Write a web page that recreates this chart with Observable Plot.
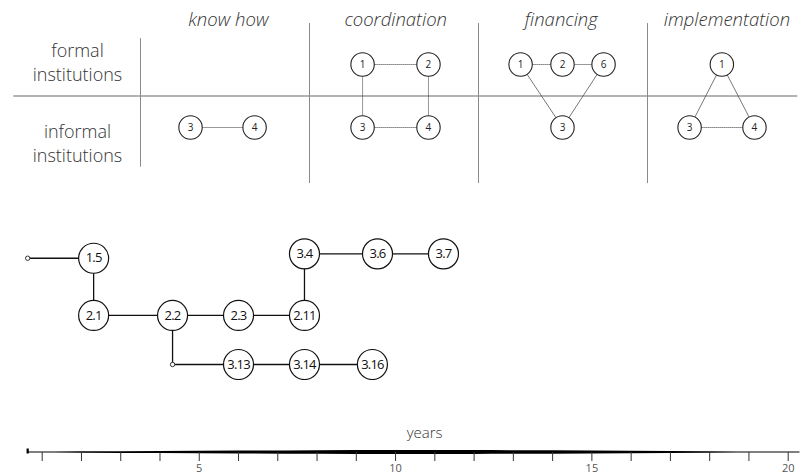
<!DOCTYPE html>
<html><head><meta charset="utf-8">
<script src="https://cdn.jsdelivr.net/npm/d3@7"></script>
<script src="https://cdn.jsdelivr.net/npm/@observablehq/plot@0.6"></script>
<style>
body{margin:0;background:#fff;}
#wrap{position:relative;width:804px;height:475px;overflow:hidden;}
#wrap > svg, #wrap > figure{position:absolute;left:0;margin:0;}
.tree-chart text{letter-spacing:-0.8px;}
</style></head><body><div id="wrap"></div>
<script>
// ---------------- DATA: institutions grid ----------------
const panels = ["know how", "coordination", "financing", "implementation"];
const panelHeaderX = [0.52, 1.51, 2.49, 3.47];          // column units
const rowLabels = ["formal\ninstitutions", "informal\ninstitutions"];
const rowLabelY = [-0.05, 1.23];                        // row units
const separators = [{x: 0, y1: -0.41, y2: 1.63}, {x: 1, y1: -0.65, y2: 1.89}, {x: 2, y1: -0.65, y2: 1.89}, {x: 3, y1: -0.65, y2: 1.89}];
const topNodes = [
  {panel: "know how", id: "3", x: 0.296, row: 1},
  {panel: "know how", id: "4", x: 0.675, row: 1},
  {panel: "coordination", id: "1", x: 1.314, row: 0},
  {panel: "coordination", id: "2", x: 1.704, row: 0},
  {panel: "coordination", id: "3", x: 1.314, row: 1},
  {panel: "coordination", id: "4", x: 1.704, row: 1},
  {panel: "financing", id: "1", x: 2.249, row: 0},
  {panel: "financing", id: "2", x: 2.497, row: 0},
  {panel: "financing", id: "6", x: 2.740, row: 0},
  {panel: "financing", id: "3", x: 2.497, row: 1},
  {panel: "implementation", id: "1", x: 3.44, row: 0},
  {panel: "implementation", id: "3", x: 3.249, row: 1},
  {panel: "implementation", id: "4", x: 3.633, row: 1}
];
const topEdges = [
  ["know how", "3", "4", "dotted"],
  ["coordination", "1", "2", "dotted"],
  ["coordination", "3", "4", "dotted"],
  ["coordination", "1", "3", "dotted"],
  ["coordination", "2", "4", "dotted"],
  ["financing", "1", "2", "dotted"],
  ["financing", "2", "6", "dotted"],
  ["financing", "1", "3", "solid"],
  ["financing", "6", "3", "solid"],
  ["implementation", "1", "3", "solid"],
  ["implementation", "1", "4", "solid"],
  ["implementation", "3", "4", "dotted"]
];

// ---------------- DATA: section tree ----------------
const treeIds = ["start", "1.5", "2.1", "2.2", "2.3", "2.11", "3.4", "3.6", "3.7", "branch", "3.13", "3.14", "3.16"];
const treeX   = [0.63, 2.31, 2.31, 4.32, 6.0, 7.68, 7.68, 9.54, 11.22, 4.32, 6.0, 7.68, 9.41];
const treeRow = [0.05, 0.05, 1.1, 1.1, 1.1, 1.1, -0.03, -0.03, -0.03, 2, 2, 2, 2];
const treeJunctions = ["start", "branch"];
const treeEdges = [
  ["start", "1.5"], ["1.5", "2.1"], ["2.1", "2.2"], ["2.2", "2.3"], ["2.3", "2.11"],
  ["2.11", "3.4"], ["3.4", "3.6"], ["3.6", "3.7"],
  ["2.2", "branch"], ["branch", "3.13"], ["3.13", "3.14"], ["3.14", "3.16"]
];

// ---------------- DATA: timeline ----------------
const years = d3.range(1, 21);
const yearLabels = [5, 10, 15, 20];
const timelineStart = 0.63;
const bandX = [0.63, 2, 4, 6, 8, 10, 12, 14, 16, 18, 20.3];
const bandWidth = [0.9, 1.4, 2.2, 3.0, 3.7, 4.1, 3.9, 3.4, 2.6, 1.6, 0.8];

(function () {
const font = "'Open Sans', 'Noto Sans', sans-serif";
const wrap = document.getElementById("wrap");
function place(el, y) { el.style.position = "absolute"; el.style.top = y + "px"; el.style.left = "0px"; wrap.appendChild(el); }

// Top grid
const nodeKey = d => d.panel + "|" + d.id;
const nodeMap = new Map(topNodes.map(d => [nodeKey(d), d]));
const edgeData = topEdges.map(([p, a, b, t]) => {
  const s = nodeMap.get(p + "|" + a), e = nodeMap.get(p + "|" + b);
  return {x1: s.x, y1: s.row, x2: e.x, y2: e.row, type: t};
});

const gridChart = Plot.plot({
  width: 804, height: 190, margin: 0,
  style: {fontFamily: font, background: "transparent"},
  x: {type: "linear", domain: [0, 4], range: [140, 816], axis: null},
  y: {type: "linear", domain: [0, 1], range: [64, 127], axis: null},
  marks: [
    Plot.ruleY([0.5], {x1: -0.75, x2: 3.89, stroke: "#9a9a9a", strokeWidth: 1.4}),
    Plot.ruleX(separators, {x: "x", y1: "y1", y2: "y2", stroke: "#8a8a8a", strokeWidth: 1}),
    Plot.link(edgeData.filter(d => d.type === "dotted"), {x1: "x1", y1: "y1", x2: "x2", y2: "y2", stroke: "#333", strokeWidth: 1, strokeDasharray: "1,1"}),
    Plot.link(edgeData.filter(d => d.type === "solid"), {x1: "x1", y1: "y1", x2: "x2", y2: "y2", stroke: "#555", strokeWidth: 0.8}),
    Plot.dot(topNodes, {x: "x", y: "row", r: 11.7, fill: "white", stroke: "#222", strokeWidth: 1.1}),
    Plot.text(topNodes, {x: "x", y: "row", text: "id", fontSize: 10, fill: "#222"}),
    Plot.text(panels, {x: (d, i) => panelHeaderX[i], y: () => -0.70, text: d => d, fontSize: 18.5, fontStyle: "italic", fontWeight: 300, fill: "#333"}),
    Plot.text(rowLabels, {x: () => -0.373, y: (d, i) => rowLabelY[i], text: d => d, fontSize: 18, lineHeight: 1.33, fontWeight: 300, fill: "#333"})
  ]
});
place(gridChart, 0);

// Tree
const treeNodes = treeIds.map((id, i) => ({id, x: treeX[i], y: treeRow[i]}));
const tmap = new Map(treeNodes.map(d => [d.id, d]));
const treeLinks = treeEdges.map(([a, b]) => ({x1: tmap.get(a).x, y1: tmap.get(a).y, x2: tmap.get(b).x, y2: tmap.get(b).y}));
const treeChart = Plot.plot({
  width: 804, height: 150, marginLeft: 41.7, marginRight: 16.3, marginTop: 0, marginBottom: 0,
  className: "tree-chart",
  style: {fontFamily: font, background: "transparent"},
  x: {type: "linear", domain: [1, 20], axis: null},
  y: {type: "linear", domain: [0, 2], range: [25, 134], axis: null},
  marks: [
    Plot.link(treeLinks, {x1: "x1", y1: "y1", x2: "x2", y2: "y2", stroke: "#111", strokeWidth: 1.3}),
    Plot.dot(treeNodes.filter(d => !treeJunctions.includes(d.id)), {x: "x", y: "y", r: 15, fill: "white", stroke: "#111", strokeWidth: 1.2}),
    Plot.dot(treeNodes.filter(d => treeJunctions.includes(d.id)), {x: "x", y: "y", r: 2.2, fill: "white", stroke: "#333", strokeWidth: 1}),
    Plot.text(treeNodes.filter(d => !treeJunctions.includes(d.id)), {x: "x", y: "y", text: "id", fontSize: 13, fill: "#111"})
  ]
});
place(treeChart, 230);

// Timeline
const band = bandX.map((x, i) => ({x, w: bandWidth[i]}));
const hasAxis = typeof Plot.axisX === "function";
const tickFmt = d => yearLabels.includes(d) ? String(d) : "";
const timelineChart = Plot.plot({
  width: 804, height: 55, marginLeft: 41.7, marginRight: 16.3, marginTop: 0, marginBottom: 23,
  style: {fontFamily: font, background: "transparent", fontSize: "11px", color: "#444"},
  x: hasAxis ? {type: "linear", domain: [1, 20], axis: null}
             : {type: "linear", domain: [1, 20], ticks: years, tickSize: 9, tickFormat: tickFmt, label: null},
  y: {type: "linear", domain: [-5, 5], range: [37, 27], axis: null},
  marks: [
    Plot.areaY(band, {x: "x", y1: d => -d.w / 2, y2: d => d.w / 2, curve: "monotone-x", fill: "#000"}),
    Plot.ruleX([timelineStart], {y1: -1.5, y2: 3.5, stroke: "#000", strokeWidth: 2.2}),
    Plot.text(["years"], {x: () => 10.74, y: () => 19, text: d => d, fontSize: 15, fontWeight: 300, fill: "#333"}),
    ...(hasAxis ? [Plot.axisX(years, {anchor: "bottom", tickSize: 9, tickPadding: 3, tickFormat: tickFmt, fontSize: 11, fill: "#555", stroke: "#333", label: null})] : [])
  ]
});
place(timelineChart, 420);
})();
</script></body></html>
